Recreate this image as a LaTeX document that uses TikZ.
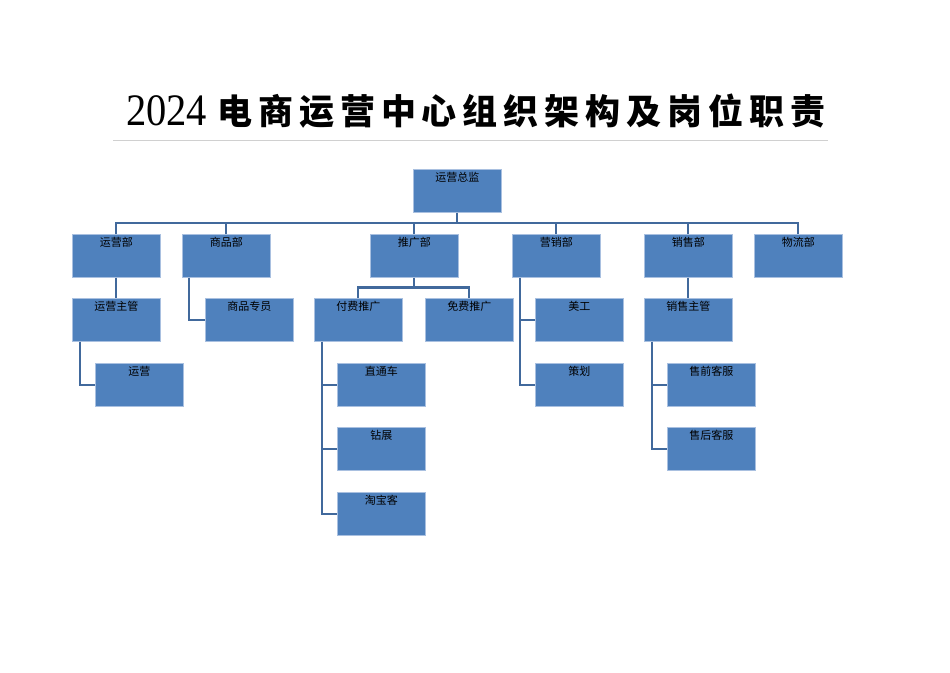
\documentclass[tikz,border=0pt]{standalone}
\usepackage{fontspec}
\setmainfont{Liberation Serif}
\newfontfamily\cjk{Noto Sans CJK SC}
\newfontfamily\titlecjk{Noto Sans CJK SC}[LetterSpace=17]
\definecolor{boxblue}{HTML}{4F81BD}
\definecolor{boxedge}{HTML}{A9C0E0}
\definecolor{linkblue}{HTML}{41699C}
\definecolor{rulegray}{HTML}{D0D0D0}
\begin{document}
\begin{tikzpicture}[x=1pt,y=-1pt,
  box/.style={rectangle, fill=boxblue, draw=boxedge, line width=0.7pt,
    minimum width=88pt, inner xsep=0pt, inner ysep=0pt,
    text height=12.5pt, text depth=30.5pt, anchor=north west,
    font=\cjk\fontsize{11}{12}\selectfont, text=black},
  link/.style={draw=linkblue, line width=2.2pt, line join=miter}]
\useasboundingbox (0,0) rectangle (950,672);
% title
\node[anchor=west, inner sep=0pt, font=\fontsize{45}{48}\selectfont] (ttl1) at (126,111) {\scalebox{0.9}[1]{2024}};
\node[anchor=west, inner sep=0pt, font=\titlecjk\bfseries\fontsize{35}{40}\selectfont] (ttl2) at (217,111) {电商运营中心组织架构及岗位职责};
\coordinate (rl) at (113,140);
\coordinate (rr) at (828,140);
\draw[rulegray, line width=0.8pt] (rl) -- (rr);
% level 0
\node[box] (zj) at (413,169) {运营总监};
% level 1
\node[box] (yyb) at (72,234) {运营部};
\node[box] (spb) at (182,234) {商品部};
\node[box] (tgb) at (370,234) {推广部};
\node[box] (yxb) at (512,234) {营销部};
\node[box] (xsb) at (644,234) {销售部};
\node[box] (wlb) at (754,234) {物流部};
% level 2
\node[box] (yyzg) at (72,298) {运营主管};
\node[box] (spzy) at (205,298) {商品专员};
\node[box] (fftg) at (314,298) {付费推广};
\node[box] (mftg) at (425,298) {免费推广};
\node[box] (mg) at (535,298) {美工};
\node[box] (xszg) at (644,298) {销售主管};
% level 3+
\node[box] (yy) at (95,363) {运营};
\node[box] (ztc) at (337,363) {直通车};
\node[box] (ch) at (535,363) {策划};
\node[box] (sqkf) at (667,363) {售前客服};
\node[box] (zz) at (337,427) {钻展};
\node[box] (shkf) at (667,427) {售后客服};
\node[box] (tbk) at (337,492) {淘宝客};
% connectors: top bus
\draw[link] (zj.south) -- ++(0,11);
\draw[link] (yyb.north) -- ++(0,-11) -| (wlb.north);
\draw[link] (spb.north) -- ++(0,-11);
\draw[link] (tgb.north) -- ++(0,-11);
\draw[link] (yxb.north) -- ++(0,-11);
\draw[link] (xsb.north) -- ++(0,-11);
% 运营部
\draw[link] (yyb.south) -- (yyzg.north);
\draw[link] ([xshift=8pt]yyzg.south west) |- (yy.west);
% 商品部
\draw[link] ([xshift=7pt]spb.south west) |- (spzy.west);
% 推广部
\draw[link] (tgb.south) -- ++(0,10.5);
\draw[link] (fftg.north) -- ++(0,-10.5) -| (mftg.north);
\draw[link] ([xshift=8pt]fftg.south west) coordinate (ffv) |- (tbk.west);
\draw[link] (ztc.west) -- (ztc.west -| ffv);
\draw[link] (zz.west) -- (zz.west -| ffv);
% 营销部
\draw[link] ([xshift=8pt]yxb.south west) coordinate (yxv) |- (ch.west);
\draw[link] (mg.west) -- (mg.west -| yxv);
% 销售部
\draw[link] (xsb.south) -- (xszg.north);
\draw[link] ([xshift=8pt]xszg.south west) coordinate (xsv) |- (shkf.west);
\draw[link] (sqkf.west) -- (sqkf.west -| xsv);
\end{tikzpicture}
\end{document}
